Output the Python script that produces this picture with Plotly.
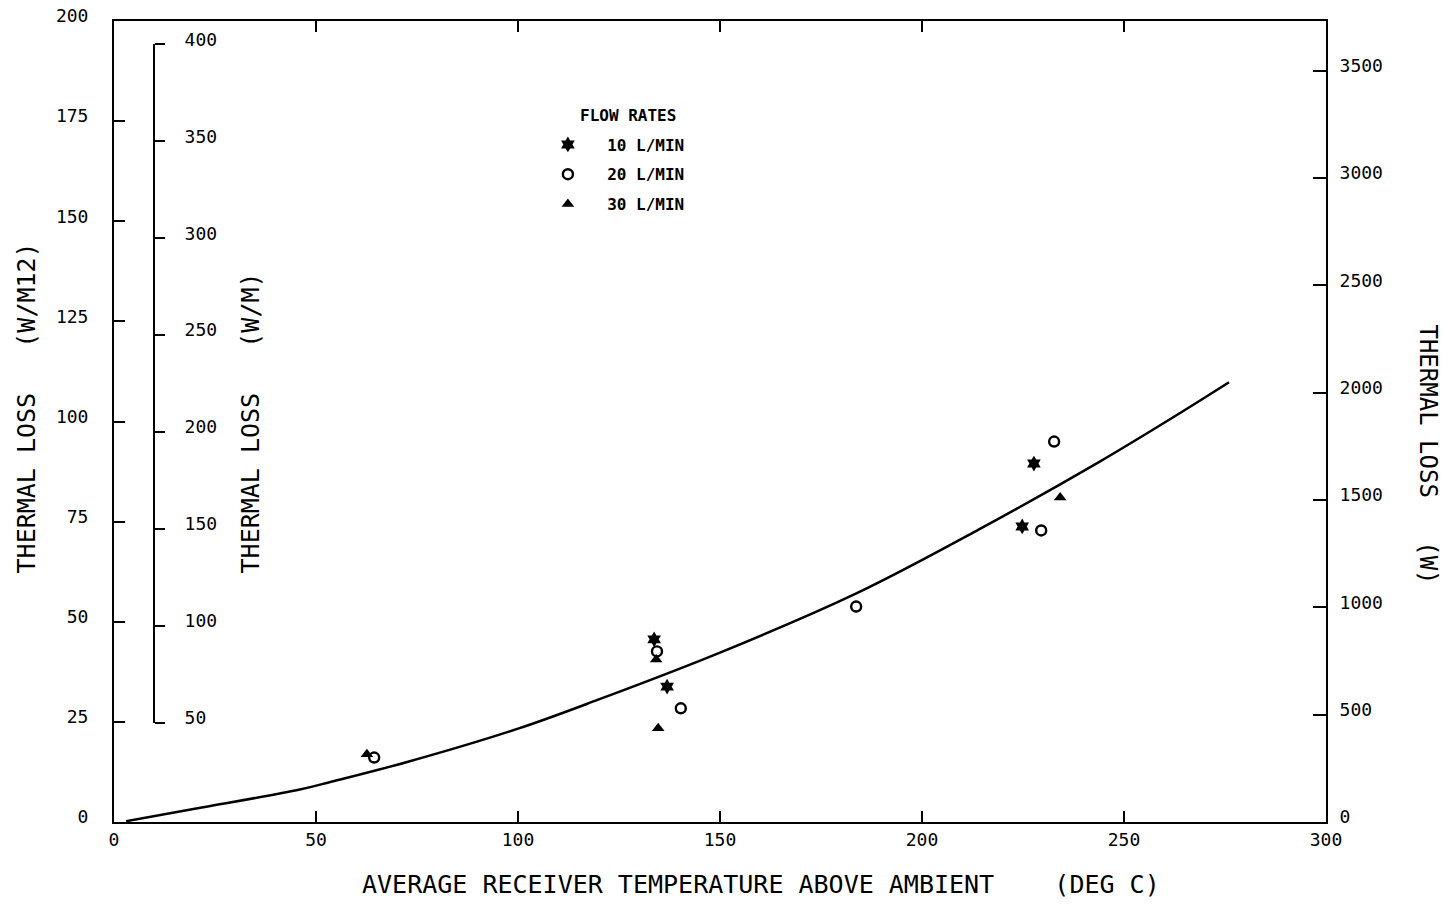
import plotly.graph_objects as go

# ---- data ----
temp_10 = [133.7, 136.9, 224.8, 227.7]
loss_10 = [45.6, 33.8, 73.8, 89.5]

temp_20 = [64.4, 134.4, 140.3, 183.7, 229.5, 232.7]
loss_20 = [16.1, 42.6, 28.4, 53.8, 72.8, 95.0]

temp_30 = [62.6, 134.2, 134.7, 234.2]
loss_30 = [16.9, 40.6, 23.4, 81.0]

fit_temp = [3, 20, 46, 54, 73, 100, 120, 150, 184, 214, 244, 264, 276]
fit_loss = [0.2, 3.3, 8.1, 10.1, 15.1, 23.3, 30.6, 42.3, 57.2, 73.0, 90.0, 102.2, 109.8]

x_ticks = [0, 50, 100, 150, 200, 250, 300]
left_ticks = [0, 25, 50, 75, 100, 125, 150, 175, 200]
inner_ticks = [50, 100, 150, 200, 250, 300, 350, 400]
right_ticks = [0, 500, 1000, 1500, 2000, 2500, 3000, 3500]

FONT = "DejaVu Sans Mono"
NB = "\u00a0"

fig = go.Figure()

fig.add_trace(go.Scatter(x=fit_temp, y=fit_loss, mode="lines",
                         line=dict(color="black", width=2.5, shape="spline"),
                         showlegend=False, hoverinfo="skip"))

fig.add_trace(go.Scatter(x=temp_10, y=loss_10, mode="markers", name=NB * 2 + "10 L/MIN",
                         legendgroup="a",
                         marker=dict(symbol="hexagram", size=12, color="black")))
fig.add_trace(go.Scatter(x=temp_20, y=loss_20, mode="markers", name=NB * 2 + "20 L/MIN",
                         legendgroup="b",
                         marker=dict(symbol="circle-open", size=10, color="black",
                                     line=dict(width=2.4, color="black"))))
fig.add_trace(go.Scatter(x=temp_30, y=loss_30, mode="markers", name=NB * 2 + "30 L/MIN",
                         legendgroup="c",
                         marker=dict(symbol="triangle-up", size=11, color="black")))

# empty traces to register the extra axes
fig.add_trace(go.Scatter(x=[], y=[], yaxis="y2", showlegend=False))
fig.add_trace(go.Scatter(x=[], y=[], yaxis="y3", showlegend=False))

tickfont = dict(family=FONT, size=18, color="black")

fig.update_layout(
    width=1446, height=904,
    margin=dict(l=114, r=120, t=21, b=82, autoexpand=False),
    paper_bgcolor="white", plot_bgcolor="rgba(0,0,0,0)",
    font=dict(family=FONT, color="black"),
    xaxis=dict(range=[0, 300], tickvals=x_ticks, ticks="inside", ticklen=11, tickwidth=2,
               tickcolor="black", showline=True, linewidth=2, linecolor="black",
               mirror="ticks", showgrid=False, zeroline=False, tickfont=tickfont,
               automargin=False),
    yaxis=dict(range=[0, 200], tickvals=left_ticks, ticks="inside", ticklen=11, tickwidth=2,
               tickcolor="black", showline=True, linewidth=2, linecolor="black",
               showgrid=False, zeroline=False, tickfont=tickfont, automargin=False,
               ticklabelstandoff=20, ticklabelshift=-5),
    yaxis2=dict(range=[50, 400], tickvals=inner_ticks, domain=[0.124, 0.9707],
                anchor="free", position=0.033, side="right",
                ticks="outside", ticklen=10, tickwidth=2, tickcolor="black",
                showline=True, linewidth=2, linecolor="black", automargin=False,
                showgrid=False, zeroline=False, tickfont=tickfont,
                ticklabelstandoff=16, ticklabelshift=-5),
    yaxis3=dict(range=[0, 3731], tickvals=right_ticks, overlaying="y", side="right",
                ticks="inside", ticklen=13, tickwidth=2, tickcolor="black",
                showline=True, linewidth=2, linecolor="black", automargin=False,
                showgrid=False, zeroline=False, tickfont=tickfont,
                ticklabelstandoff=8, ticklabelshift=-5),
    legend=dict(x=0.358, y=0.867, xanchor="left", yanchor="top",
                bgcolor="rgba(0,0,0,0)", tracegroupgap=6,
                font=dict(family=FONT, size=16, color="black", weight="bold")),
    showlegend=True,
)

fig.add_annotation(text="FLOW RATES", xref="paper", yref="paper",
                   x=(628 - 114) / 1212, y=(822.5 - 116) / 801,
                   xanchor="center", yanchor="middle", showarrow=False,
                   font=dict(family=FONT, size=16, color="black", weight="bold"))

title_font = dict(family=FONT, size=25, color="black")
fig.add_annotation(text="AVERAGE RECEIVER TEMPERATURE ABOVE AMBIENT" + NB * 4 + "(DEG C)",
                   xref="paper", yref="paper", x=0.534, y=-0.078,
                   xanchor="center", yanchor="middle", showarrow=False, font=title_font)
fig.add_annotation(text="THERMAL LOSS" + NB * 3 + "(W/M12)",
                   xref="paper", yref="paper", x=-0.0718, y=0.5175, textangle=-90,
                   xanchor="center", yanchor="middle", showarrow=False, font=title_font)
fig.add_annotation(text="THERMAL LOSS" + NB * 3 + "(W/M)",
                   xref="paper", yref="paper", x=0.1122, y=0.4988, textangle=-90,
                   xanchor="center", yanchor="middle", showarrow=False, font=title_font)
fig.add_annotation(text="THERMAL LOSS" + NB * 3 + "(W)",
                   xref="paper", yref="paper", x=1.0842, y=0.4588, textangle=90,
                   xanchor="center", yanchor="middle", showarrow=False,
                   font=dict(family=FONT, size=24, color="black"))

fig.write_html("out.html", config={"displayModeBar": False},
               post_script="document.body.style.margin='0px';document.body.style.padding='0px';")
